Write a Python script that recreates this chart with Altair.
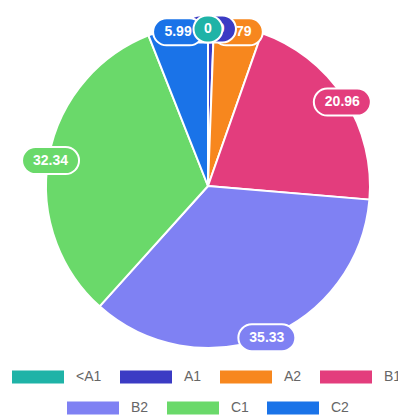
import altair as alt
import pandas as pd

cats = ["<A1", "A1", "A2", "B1", "B2", "C1", "C2"]
values = [0, 0.59, 4.79, 20.96, 35.33, 32.34, 5.99]
colors = ["#1fb3a7", "#3b3bc4", "#f7871e", "#e33d7d", "#7f81f3", "#6ad96a", "#1a73e8"]
row1 = cats[:4]
row2 = cats[4:]
label_draw_order = ["C1", "B2", "B1", "A2", "A1", "C2", "<A1"]

df = pd.DataFrame({"cat": cats, "value": values, "idx": list(range(len(cats)))})

CX, CY, R, LR = 200, 178, 162, 160
W, H = 390, 409

xs = alt.Scale(domain=[0, W], nice=False, zero=False)
ys = alt.Scale(domain=[0, H], nice=False, zero=False, reverse=True)
shape = "M-1,-0.25H1V0.25H-1Z"

def legend(vals, lx, ly, cols):
    return alt.Legend(values=vals, title=None, orient="none", legendX=lx, legendY=ly,
                      direction="horizontal", columns=cols, symbolType=shape,
                      symbolSize=2704, symbolStrokeWidth=0, symbolOpacity=1,
                      labelFontSize=14, labelColor="#666", labelOffset=12,
                      columnPadding=18, labelFont="Liberation Sans", padding=0)

base = alt.Chart(df)

arcs = base.mark_arc(outerRadius=R, stroke="white", strokeWidth=2, x=CX, y=CY).encode(
    theta=alt.Theta("value:Q", stack=True),
    order=alt.Order("idx:Q"),
    color=alt.Color("cat:N", scale=alt.Scale(domain=cats, range=colors),
                    legend=legend(row1, 4, 343, 4)),
)

lab = base.transform_window(
    cum="sum(value)", sort=[alt.SortField("idx")]
).transform_joinaggregate(total="sum(value)").transform_calculate(
    mid=f"(datum.cum - datum.value/2)/datum.total*2*PI",
    lx=f"{CX} + {LR}*sin(datum.mid)",
    ly=f"{CY} - {LR}*cos(datum.mid) + 3",
    label="toString(datum.value)",
    hw="(length(toString(datum.value))*7 + 22)/2",
    x1="datum.lx - datum.hw", x2="datum.lx + datum.hw",
    y1="datum.ly - 13.5", y2="datum.ly + 13.5",
)

layers = []
for c in label_draw_order:
    sub = lab.transform_filter(alt.datum.cat == c)
    layers.append(sub.mark_rect(cornerRadius=13.5, stroke="white", strokeWidth=2).encode(
        x=alt.X("x1:Q", scale=xs, axis=None), x2="x2:Q",
        y=alt.Y("y1:Q", scale=ys, axis=None), y2="y2:Q",
        color=alt.Color("cat:N", scale=alt.Scale(domain=cats, range=colors),
                        legend=legend(row2, 59, 374, 3)),
    ))
    layers.append(sub.mark_text(color="white", fontWeight="bold", fontSize=14,
                                font="Liberation Sans").encode(
        x=alt.X("lx:Q", scale=xs, axis=None),
        y=alt.Y("ly:Q", scale=ys, axis=None),
        text="label:N",
    ))

labels = alt.layer(*layers)

chart = alt.layer(arcs, labels).resolve_scale(color="independent").properties(
    width=W, height=H, autosize=alt.AutoSizeParams(type="none"), padding=0
).configure_view(stroke=None)

chart.save("out.html", embed_options={"renderer": "svg", "actions": False})
